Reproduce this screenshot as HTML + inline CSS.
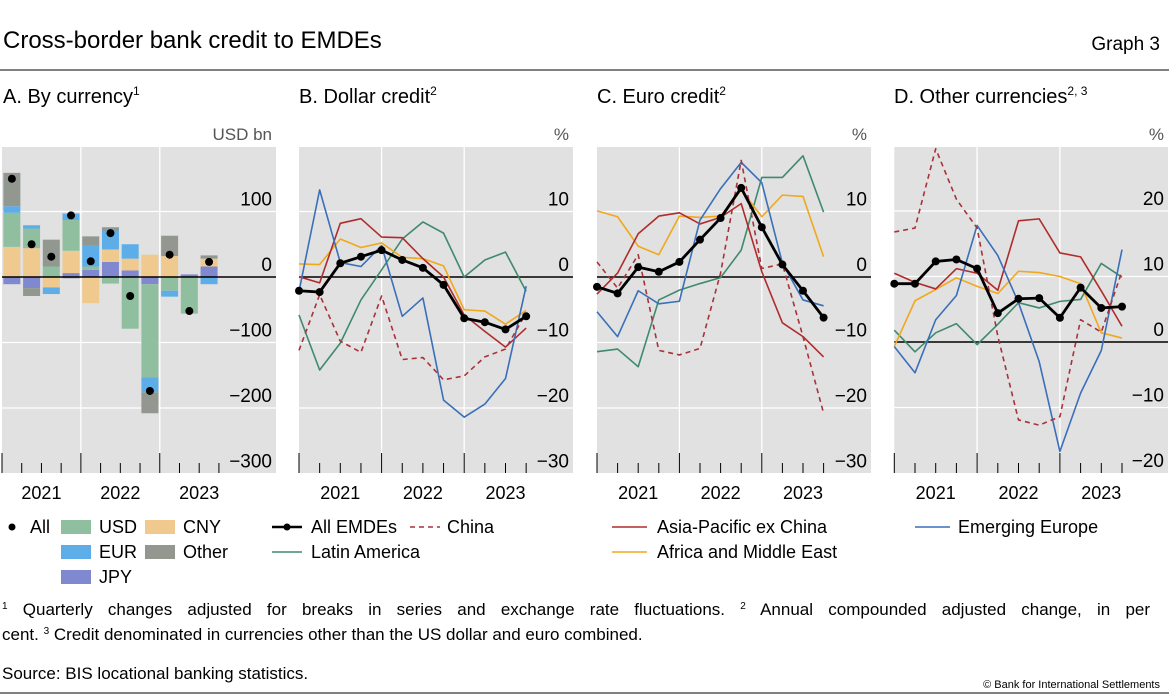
<!DOCTYPE html>
<html><head><meta charset="utf-8"><style>
body{margin:0;background:#fff}
svg{display:block;font-family:"Liberation Sans",sans-serif}
</style></head><body>
<svg id="chart" width="1169" height="695" viewBox="0 0 1169 695" xmlns="http://www.w3.org/2000/svg">
<text x="3" y="48" font-size="24" fill="#000">Cross-border bank credit to EMDEs</text>
<text x="1160" y="50" font-size="19" text-anchor="end">Graph 3</text>
<line x1="0" y1="70" x2="1169" y2="70" stroke="#000" stroke-width="1"/>
<text x="3" y="103" font-size="20">A. By currency<tspan font-size="12" dy="-8">1</tspan></text>
<text x="299" y="103" font-size="20">B. Dollar credit<tspan font-size="12" dy="-8">2</tspan></text>
<text x="597" y="103" font-size="20">C. Euro credit<tspan font-size="12" dy="-8">2</tspan></text>
<text x="894" y="103" font-size="20">D. Other currencies<tspan font-size="12" dy="-8">2, 3</tspan></text>
<g id="plots"></g>
<g id="legends" font-size="18">
<circle cx="12" cy="527" r="3.5" fill="#000"/>
<text x="30" y="533">All</text>
<rect x="61" y="520" width="30" height="14" fill="#8fbf9f"/>
<text x="99" y="533">USD</text>
<rect x="145" y="520" width="30" height="14" fill="#efc98e"/>
<text x="183" y="533">CNY</text>
<rect x="61" y="545" width="30" height="14" fill="#5dade8"/>
<text x="99" y="558">EUR</text>
<rect x="145" y="545" width="30" height="14" fill="#929890"/>
<text x="183" y="558">Other</text>
<rect x="61" y="570" width="30" height="14" fill="#8088d0"/>
<text x="99" y="583">JPY</text>

<line x1="272" y1="527" x2="302" y2="527" stroke="#000" stroke-width="2.5"/>
<circle cx="287" cy="527" r="3.5" fill="#000"/>
<text x="311" y="533">All EMDEs</text>
<line x1="410" y1="527" x2="440" y2="527" stroke="#a8323a" stroke-width="1.5" stroke-dasharray="5,4"/>
<text x="447" y="533">China</text>
<line x1="272" y1="552" x2="302" y2="552" stroke="#3f8a6e" stroke-width="1.5"/>
<text x="311" y="558">Latin America</text>

<line x1="612" y1="527" x2="647" y2="527" stroke="#b02c2c" stroke-width="1.5"/>
<text x="657" y="533">Asia-Pacific ex China</text>
<line x1="612" y1="552" x2="647" y2="552" stroke="#f0a81c" stroke-width="1.5"/>
<text x="657" y="558">Africa and Middle East</text>
<line x1="915" y1="527" x2="950" y2="527" stroke="#3a6fba" stroke-width="1.5"/>
<text x="958" y="533">Emerging Europe</text>
</g>
<g font-size="17">
<text x="2" y="615" word-spacing="10.5"><tspan font-size="10" dy="-6">1</tspan><tspan dy="6"> Quarterly changes adjusted for breaks in series and exchange rate fluctuations.  </tspan><tspan font-size="10" dy="-6">2</tspan><tspan dy="6"> Annual compounded adjusted change, in per</tspan></text>
<text x="2" y="640">cent.   <tspan font-size="10" dy="-6">3</tspan><tspan dy="6">  Credit denominated in currencies other than the US dollar and euro combined.</tspan></text>
<text x="2" y="679">Source: BIS locational banking statistics.</text>
</g>
<text x="1160" y="688" font-size="11" text-anchor="end">© Bank for International Settlements</text>
<line x1="0" y1="693" x2="1169" y2="693" stroke="#000" stroke-width="1"/>
</svg>
<script>
// Panel A data (USD bn), quarters 2021Q1..2023Q3
const quartersA = ["2021Q1","2021Q2","2021Q3","2021Q4","2022Q1","2022Q2","2022Q3","2022Q4","2023Q1","2023Q2","2023Q3"];
const jpyA = [-11,-17,0,6,11,23,10,-11,0,4,16];
const cnyA = [46,44,-16,34,-40,19,18,34,32,0,12];
const usdA = [52,30,16,47,5,-10,-79,-142,-21,-56,0];
const eurA = [10,5,-10,10,32,29,22,-23,-9,0,-11];
const otherA = [51,-12,41,-2,14,5,0,-32,31,0,5];
const allA = [150,50,31,94,24,67,-29,-174,34,-52,23];
const ticksA = [100,0,-100,-200,-300];
const yearLabels = ["2021","2022","2023"];

// Panels B-D, 2020Q4..2023Q3 (%)
const allB = [-2.1,-2.3,2.1,3.1,4.1,2.6,1.4,-1.2,-6.3,-6.9,-8.0,-6.0];
const chinaB = [-11.2,-2.7,-9.8,-11.5,-2.9,-12.6,-12.3,-15.7,-15.1,-12.2,-11.0,-5.5];
const asiaB = [0.05,-0.9,8.2,8.9,6.1,6.0,2.8,0,-5.8,-8.3,-10.7,-7.8];
const africaB = [2.0,1.9,5.8,4.5,5.2,3.0,2.8,1.7,-5.0,-5.2,-7.2,-5.1];
const latamB = [-5.8,-14.2,-10.1,-3.5,1.1,5.8,8.4,6.7,0,2.6,3.8,-2.2];
const europeB = [-2.2,13.3,2.2,1.6,4.8,-6.0,-3.2,-18.8,-21.4,-19.4,-15.5,-1.4];
const ticksB = [10,0,-10,-20,-30];

const allC = [-1.5,-2.5,1.5,0.8,2.3,5.7,9.0,13.6,7.6,1.9,-2.1,-6.2];
const chinaC = [2.3,-1.7,3.4,-11.2,-11.9,-10.9,0.6,17.8,1.3,2.0,-9.1,-20.8];
const asiaC = [-2.6,0.6,6.6,9.3,9.8,8.1,9.1,11.2,0.8,-7.0,-9.1,-12.2];
const africaC = [10.1,9.2,4.7,3.4,9.3,9.1,9.3,13.3,9.2,12.5,12.3,3.1];
const latamC = [-11.4,-11.0,-13.7,-3.5,-2.0,-1.0,-0.1,4.1,15.2,15.2,18.5,9.9];
const europeC = [-5.3,-9.1,-2.1,-4.1,-3.7,8.7,13.5,17.5,14.4,2.1,-3.5,-4.4];
const ticksC = [10,0,-10,-20,-30];

const allD = [8.9,8.9,12.3,12.6,11.2,4.4,6.6,6.7,3.7,8.3,5.2,5.4];
const chinaD = [16.8,17.4,29.5,21.8,17.4,0.9,-11.9,-12.7,-11.4,3.4,1.5,10.8];
const asiaD = [10.5,9.1,8.1,11.2,10.5,7.9,18.5,18.8,13.6,13.0,7.8,2.4];
const africaD = [-0.7,6.3,8.0,9.8,8.5,7.4,10.8,10.6,10.0,8.9,1.4,0.6];
const latamD = [1.8,-1.5,1.4,2.8,-0.4,2.7,6.0,5.2,6.2,6.5,12.0,9.9];
const europeD = [-0.7,-4.7,3.4,7.1,17.8,13.2,6.0,-3.0,-16.7,-7.8,-1.3,14.1];
const ticksD = [20,10,0,-10,-20];

const NS="http://www.w3.org/2000/svg";
const root=document.getElementById('plots');
function mk(tag,attrs,parent){const e=document.createElementNS(NS,tag);for(const k in attrs)e.setAttribute(k,attrs[k]);(parent||root).appendChild(e);return e;}
const TOP=147,BOT=473,PXU=6.55;

function frame(x0,x1,zeroY,scale,ticks,unit,name){
  const g=mk('g',{});
  
  
  mk('rect',{x:x0,y:TOP,width:x1-x0,height:BOT-TOP,fill:'#e1e1e1'},g);
  const y=v=>zeroY-v*scale;
  ticks.forEach(t=>{
    if(t!==0 && y(t)>TOP && y(t)<BOT) mk('line',{x1:x0,x2:x1,y1:y(t),y2:y(t),stroke:'#fff','stroke-width':1.3},g);
    const lb=mk('text',{x:x1-4,y:y(t)-6,'font-size':19,'text-anchor':'end',fill:'#000'},g);
    lb.textContent=t<0?'\u2212'+Math.abs(t):String(t);
    
    
  });
  const u=mk('text',{x:x1-4,y:140,'font-size':17,'text-anchor':'end',fill:'#555'},g);
  u.textContent=unit;
  
  
  return {g,y};
}
function xAxis(g,xs,step,x0,nT){
  for(let k=0;k<nT;k++){
    const x=xs(k), major=(k%4===0);
    if(major && k>0) mk('line',{x1:x,x2:x,y1:TOP,y2:BOT,stroke:'#fff','stroke-width':1.3},g);
    mk('line',{x1:x,x2:x,y1:major?453:463,y2:BOT,stroke:'#000','stroke-width':1},g);
  }
  yearLabels.forEach((yl,i)=>{
    const t=mk('text',{x:xs(i*4)+step*2,y:499,'font-size':18,'text-anchor':'middle'},g);
    t.textContent=yl;
    
    
  });
}

// Panel A
(function(){
  const x0=2,x1=276,step=19.72,zeroY=277,scale=0.655;
  const {g,y}=frame(x0,x1,zeroY,scale,ticksA,'USD bn','panel-a');
  xAxis(g,k=>x0+k*step,step,x0,12);
  const series=[[jpyA,'#8088d0','jpy'],[cnyA,'#efc98e','cny'],[usdA,'#8fbf9f','usd'],[eurA,'#5dade8','eur'],[otherA,'#929890','other']];
  quartersA.forEach((q,i)=>{
    let pos=0,neg=0;const cx=x0+(i+0.5)*step;
    series.forEach(([arr,col,nm])=>{
      const v=arr[i]; if(!v) return;
      let a,b; if(v>0){a=pos;b=pos+v;pos=b;}else{a=neg;b=neg+v;neg=b;}
      const r=mk('rect',{x:cx-8.5,width:17,y:Math.min(y(a),y(b)),height:Math.abs(y(a)-y(b)),fill:col},g);
      
      
    });
  });
  mk('line',{x1:x0,x2:x1,y1:zeroY,y2:zeroY,stroke:'#000','stroke-width':1.5},g);
  allA.forEach((v,i)=>{
    const c=mk('circle',{cx:x0+(i+0.5)*step,cy:y(v),r:4,fill:'#000'},g);
    
    
  });
})();

function linePanel(x0,x1,step,zeroY,ticks,sets,name){
  const {g,y}=frame(x0,x1,zeroY,PXU,ticks,'%',name);
  const xs=k=>x0+k*step;
  xAxis(g,xs,step,x0,12);
  mk('line',{x1:x0,x2:x1,y1:zeroY,y2:zeroY,stroke:'#000','stroke-width':1.5},g);
  const defs=[[sets.latam,'#3f8a6e','',1.6,'line-latin-america'],[sets.africa,'#f0a81c','',1.6,'line-africa-me'],[sets.asia,'#b02c2c','',1.6,'line-asia-pacific'],[sets.europe,'#3a6fba','',1.6,'line-emerging-europe'],[sets.china,'#a8323a','5,4',1.6,'line-china'],[sets.all,'#000','',2.8,'line-all-emdes']];
  defs.forEach(([arr,col,dash,w,nm])=>{
    const p=mk('polyline',{points:arr.map((v,i)=>xs(i)+','+y(v)).join(' '),fill:'none',stroke:col,'stroke-width':w,'stroke-dasharray':dash||'none','stroke-linejoin':'round'},g);
    
    
  });
  sets.all.forEach((v,i)=>{
    const c=mk('circle',{cx:xs(i),cy:y(v),r:4,fill:'#000'},g);
    
    
  });
}
linePanel(299,573,20.65,277,ticksB,{all:allB,china:chinaB,asia:asiaB,africa:africaB,latam:latamB,europe:europeB},'panel-b');
linePanel(597,871,20.6,277,ticksC,{all:allC,china:chinaC,asia:asiaC,africa:africaC,latam:latamC,europe:europeC},'panel-c');
linePanel(894.3,1168,20.7,342,ticksD,{all:allD,china:chinaD,asia:asiaD,africa:africaD,latam:latamD,europe:europeD},'panel-d');
</script>
</body></html>
